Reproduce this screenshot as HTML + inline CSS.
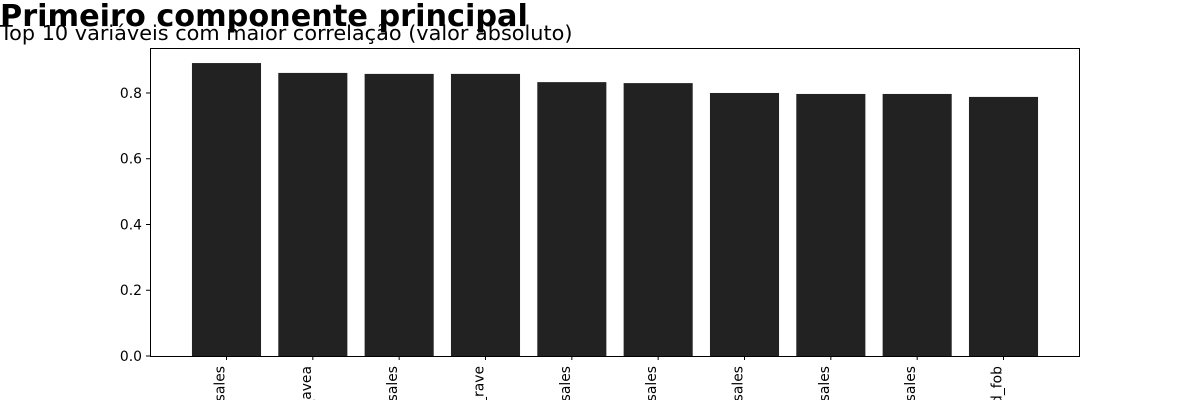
<!DOCTYPE html>
<html><head><meta charset="utf-8"><style>
body{margin:0;background:#fff;width:1200px;height:400px;overflow:hidden}
svg{font-family:"DejaVu Sans","Liberation Sans",sans-serif}
</style></head><body>
<svg id="chart" width="1200" height="400">
<text x="0" y="26" font-size="30.3" font-weight="bold" fill="#000">Primeiro componente principal</text>
<text x="0" y="40" font-size="20.8" fill="#000">Top 10 variáveis com maior correlação (valor absoluto)</text>
<g id="bars"></g>
<g id="axes"></g>
</svg>
<script>
const categories=["x_sales","x_avea","x_sales","xx_rave","x_sales","x_sales","x_sales","x_sales","x_sales","xxd_fob"];
const values=[0.891,0.861,0.858,0.858,0.833,0.830,0.800,0.797,0.797,0.788];
const yTicks=[0.0,0.2,0.4,0.6,0.8];
const yTickLabels=["0.0","0.2","0.4","0.6","0.8"];
const L=150,R=1080,T=48,B=356;
const xMin=-0.886,xMax=9.886;
const yMax=0.9368;
const ns="http://www.w3.org/2000/svg";
function xs(i){return L+(i-xMin)/(xMax-xMin)*(R-L);}
function ys(v){return B-v/yMax*(B-T);}
const bars=document.getElementById('bars'),axes=document.getElementById('axes');
function mk(t,a,p){const e=document.createElementNS(ns,t);for(const k in a)e.setAttribute(k,a[k]);p.appendChild(e);return e;}
const bw=0.8*(R-L)/(xMax-xMin);
values.forEach((v,i)=>{
  const r=mk('rect',{x:xs(i)-bw/2,y:ys(v),width:bw,height:B-ys(v),fill:'#222222'},bars);
  
  
  const tk=mk('line',{x1:xs(i),x2:xs(i),y1:B,y2:B+4,stroke:'#000','stroke-width':1},axes);
  
  
  const tx=mk('text',{x:0,y:0,'font-size':13.9,'text-anchor':'end',transform:`translate(${xs(i)-2},366) rotate(-90)`},axes);
  tx.textContent=categories[i];
  
  
});
yTicks.forEach((v,i)=>{
  const tk=mk('line',{x1:L-4,x2:L,y1:ys(v),y2:ys(v),stroke:'#000','stroke-width':1},axes);
  
  
  const tx=mk('text',{x:L-8,y:ys(v)+5,'font-size':13.9,'text-anchor':'end'},axes);
  tx.textContent=yTickLabels[i];
  
  
});
const fr=mk('rect',{x:L+0.5,y:T+0.5,width:R-L-1,height:B-T,fill:'none',stroke:'#000','stroke-width':1},axes);


</script>
</body></html>
